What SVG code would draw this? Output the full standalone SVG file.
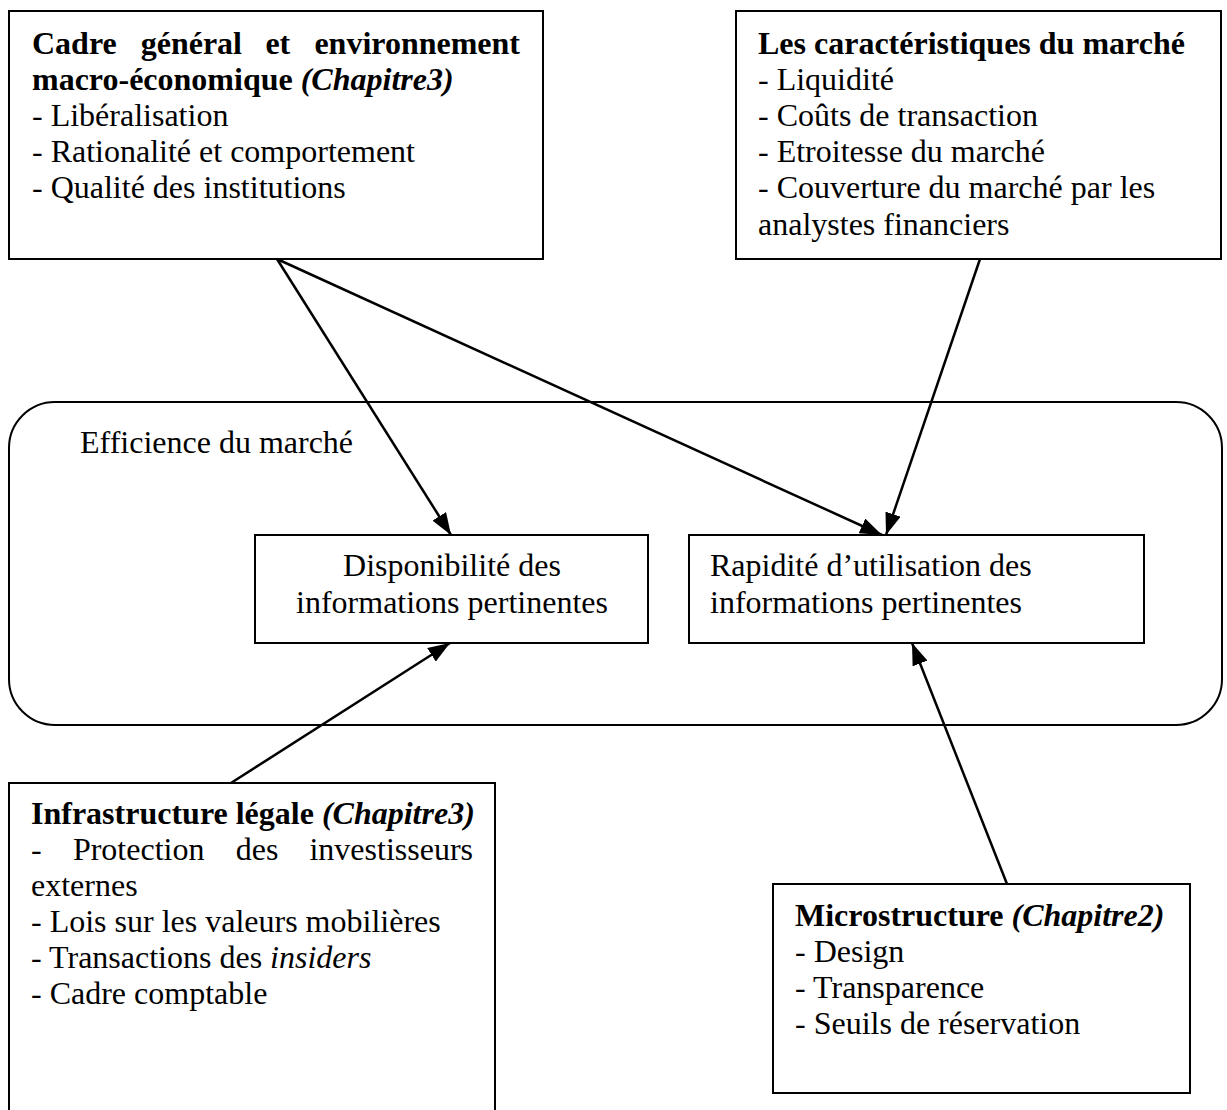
<svg xmlns="http://www.w3.org/2000/svg" width="1227" height="1110" viewBox="0 0 1227 1110">
<style>
text{font-family:"Liberation Serif","Times New Roman",serif;font-size:32px;fill:#000}
.b{font-weight:bold}
.bi{font-weight:bold;font-style:italic}
.i{font-style:italic}
.box{fill:#fff;stroke:#000;stroke-width:2}
.con{stroke:#000;stroke-width:2.5;fill:none}
</style>
<defs>
<marker id="arr" markerUnits="userSpaceOnUse" markerWidth="22" markerHeight="16" refX="22" refY="8" orient="auto" viewBox="0 0 22 16">
<path d="M0,0 L22,8 L0,16 z" fill="#000"/>
</marker>
</defs>
<rect width="1227" height="1110" fill="#fff"/>

<g id="efficience">
<rect class="box" x="9" y="402" width="1213" height="323" rx="46" ry="46"/>
<text x="80" y="453">Efficience du marché</text>
</g>

<g id="cadre">
<rect class="box" x="9" y="11" width="534" height="248"/>
<text class="b" x="32" y="54">Cadre</text>
<text class="b" x="140.7" y="54">général</text>
<text class="b" x="265.4" y="54">et</text>
<text class="b" x="520" y="54" text-anchor="end">environnement</text>
<text x="32" y="90"><tspan class="b">macro-économique </tspan><tspan class="bi">(Chapitre3)</tspan></text>
<text x="32" y="126">- Libéralisation</text>
<text x="32" y="162">- Rationalité et comportement</text>
<text x="32" y="198">- Qualité des institutions</text>
</g>

<g id="caracteristiques">
<rect class="box" x="736" y="11" width="485" height="248"/>
<text class="b" x="758" y="54">Les caractéristiques du marché</text>
<text x="758" y="90">- Liquidité</text>
<text x="758" y="126">- Coûts de transaction</text>
<text x="758" y="162">- Etroitesse du marché</text>
<text x="758" y="198">- Couverture du marché par les</text>
<text x="758" y="235">analystes financiers</text>
</g>

<g id="disponibilite">
<rect class="box" x="255" y="535" width="393" height="108"/>
<text x="452" y="576" text-anchor="middle">Disponibilité des</text>
<text x="452" y="613" text-anchor="middle">informations pertinentes</text>
</g>

<g id="rapidite">
<rect class="box" x="689" y="535" width="455" height="108"/>
<text x="710" y="576">Rapidité d’utilisation des</text>
<text x="710" y="613">informations pertinentes</text>
</g>

<g id="infrastructure">
<rect class="box" x="9" y="783" width="486" height="340"/>
<text x="31" y="824"><tspan class="b">Infrastructure légale </tspan><tspan class="bi">(Chapitre3)</tspan></text>
<text x="31" y="860">-</text>
<text x="72.9" y="860">Protection</text>
<text x="235.7" y="860">des</text>
<text x="473" y="860" text-anchor="end">investisseurs</text>
<text x="31" y="896">externes</text>
<text x="31" y="932">- Lois sur les valeurs mobilières</text>
<text x="31" y="968">- Transactions des <tspan class="i">insiders</tspan></text>
<text x="31" y="1004">- Cadre comptable</text>
</g>

<g id="microstructure">
<rect class="box" x="773" y="884" width="417" height="209"/>
<text x="795" y="926"><tspan class="b">Microstructure </tspan><tspan class="bi">(Chapitre2)</tspan></text>
<text x="795" y="962">- Design</text>
<text x="795" y="998">- Transparence</text>
<text x="795" y="1034">- Seuils de réservation</text>
</g>

<g id="connectors">
<line class="con" x1="277" y1="259" x2="451" y2="535" marker-end="url(#arr)"/>
<line class="con" x1="277" y1="259" x2="882" y2="535" marker-end="url(#arr)"/>
<line class="con" x1="980" y1="259" x2="886" y2="535" marker-end="url(#arr)"/>
<line class="con" x1="231" y1="783" x2="450" y2="643" marker-end="url(#arr)"/>
<line class="con" x1="1007" y1="884" x2="912" y2="643" marker-end="url(#arr)"/>
</g>
</svg>
